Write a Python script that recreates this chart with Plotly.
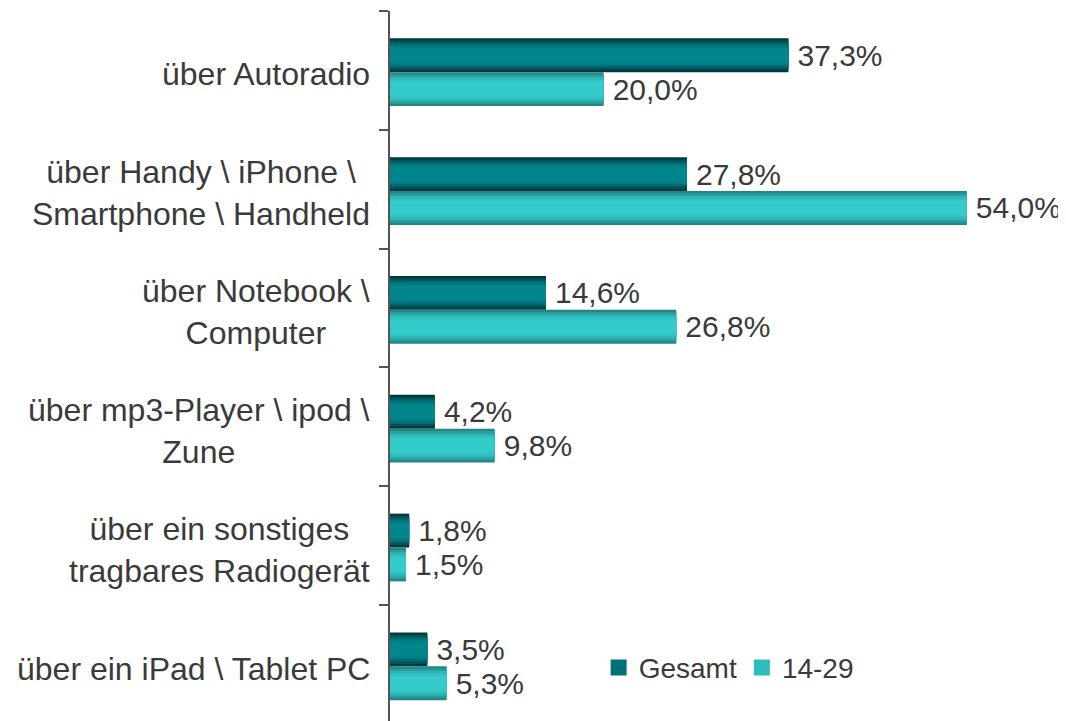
import plotly.graph_objects as go

categories = [
    "über Autoradio",
    "über Handy \\ iPhone \\<br>Smartphone \\ Handheld",
    "über Notebook \\<br>Computer",
    "über mp3-Player \\ ipod \\<br>Zune",
    "über ein sonstiges<br>tragbares Radiogerät",
    "über ein iPad \\ Tablet PC",
]
gesamt = [37.3, 27.8, 14.6, 4.2, 1.8, 3.5]
jung = [20.0, 54.0, 26.8, 9.8, 1.5, 5.3]

FONT = "Liberation Sans, Arial, sans-serif"
TEXT = "#3a3a3a"
BAR_W = 0.285

# shading layers (outer -> inner) to fake the cylindrical gradient
gesamt_shades = ["#00393c", "#005358", "#006c71", "#007c82", "#00878d"]
jung_shades = ["#238585", "#289f9f", "#2db4b4", "#31c2c2", "#34cbcb"]
fracs = [1.0, 0.86, 0.72, 0.58, 0.42]

fig = go.Figure()


def add_series(values, shades, center):
    for i, (frac, col) in enumerate(zip(fracs, shades)):
        w = BAR_W * frac
        kw = {}
        if i == 0:
            kw = dict(
                texttemplate="\u2009%{x:.1f}%",
                textposition="outside",
                textfont=dict(size=30, color=TEXT, family=FONT),
                cliponaxis=False,
                constraintext="none",
            )
        fig.add_trace(
            go.Bar(
                x=values,
                y=categories,
                orientation="h",
                width=w,
                offset=center - w / 2,
                marker=dict(color=col, line=dict(width=0)),
                showlegend=False,
                hoverinfo="skip",
                **kw,
            )
        )


add_series(gesamt, gesamt_shades, 0.015 - BAR_W / 2)
add_series(jung, jung_shades, 0.015 + BAR_W / 2)

# legend entries
for name, col in [("Gesamt", "#00737a"), ("14-29", "#2fbcbc")]:
    fig.add_trace(
        go.Scatter(
            x=[None],
            y=[None],
            mode="markers",
            name=name,
            marker=dict(symbol="square", size=16, color=col),
        )
    )

for cat in categories:
    fig.add_annotation(
        x=0,
        xref="paper",
        y=cat,
        yref="y",
        text=cat,
        xanchor="right",
        xshift=-18,
        yshift=-4,
        align="center",
        showarrow=False,
        font=dict(size=32, color=TEXT, family=FONT),
    )

# page body has an 8px margin, so the figure is a bit smaller than the window
fig.update_layout(
    width=1058,
    height=713,
    barmode="overlay",
    separators=",.",
    plot_bgcolor="white",
    paper_bgcolor="white",
    margin=dict(l=382, r=3, t=3, b=0, autoexpand=False),
    font=dict(family=FONT, size=29, color=TEXT),
    legend=dict(
        orientation="h",
        x=0.31,
        xanchor="left",
        y=0.075,
        yanchor="middle",
        font=dict(size=28, color=TEXT),
        bgcolor="rgba(0,0,0,0)",
        itemwidth=30,
    ),
)
fig.update_xaxes(
    range=[0, 63],
    visible=False,
    showgrid=False,
    zeroline=False,
)
fig.update_yaxes(
    categoryorder="array",
    categoryarray=categories,
    range=[5.475, -0.5],
    showticklabels=False,
    showgrid=False,
    zeroline=False,
    showline=True,
    linecolor="#555555",
    linewidth=1.5,
    ticks="outside",
    tickson="boundaries",
    ticklen=9,
    tickcolor="#555555",
    tickwidth=1.5,
)

fig.write_html("out.html")
